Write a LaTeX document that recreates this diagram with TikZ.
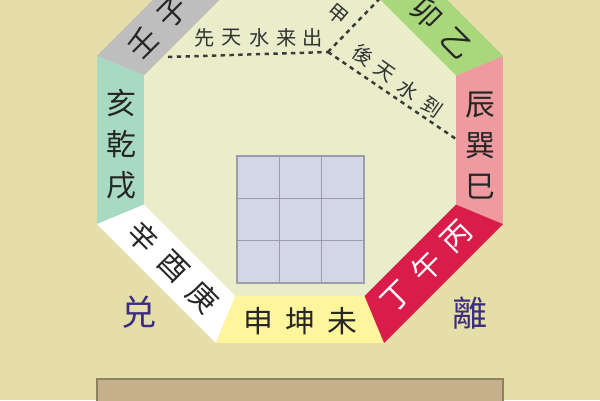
\documentclass[tikz,border=0pt]{standalone}
\usepackage{fontspec}
\newfontfamily\cjk{Noto Sans CJK SC}
\usetikzlibrary{calc}
\definecolor{bgtan}{HTML}{E6DEA9}
\definecolor{innergreen}{HTML}{E9EDC9}
\definecolor{tealseg}{HTML}{A8D9C3}
\definecolor{grayseg}{HTML}{BEBEBE}
\definecolor{greenseg}{HTML}{A9D77B}
\definecolor{pinkseg}{HTML}{EE9A9E}
\definecolor{redseg}{HTML}{D91C4A}
\definecolor{yellowseg}{HTML}{FFF59D}
\definecolor{gridfill}{HTML}{D3D6E4}
\definecolor{gridline}{HTML}{9C9CAC}
\definecolor{guaink}{HTML}{3B2E7E}
\definecolor{boxfill}{HTML}{C5B08B}
\definecolor{boxedge}{HTML}{8C845E}
\definecolor{dotink}{HTML}{3A3A3A}
\tikzset{
  band/.style={font=\cjk\fontsize{17}{17}\selectfont, inner sep=0pt, text=black!85},
  gua/.style={font=\cjk\fontsize{20}{20}\selectfont, inner sep=0pt, text=guaink},
  note/.style={font=\cjk\fontsize{11.5}{11.5}\selectfont, inner sep=0pt, text=black!80},
  waterline/.style={dotink, line width=1.4pt, dash pattern=on 2.5pt off 2.5pt}
}

\begin{document}
\begin{tikzpicture}[x=0.02cm,y=0.02cm]
\useasboundingbox (0,0) rectangle (600,400);
\clip (0,0) rectangle (600,400);
\fill[bgtan] (0,0) rectangle (600,400);
% octagon
\fill[innergreen, shift={(300,260)}] (22.5:171) \foreach \a in {67.5,112.5,...,337.5} {-- (\a:171)} -- cycle;
\foreach \a/\c in {0/pinkseg,45/greenseg,135/grayseg,180/tealseg,225/white,270/yellowseg,315/redseg}
  \fill[\c, shift={(300,260)}] (\a-22.5:219.7) -- (\a+22.5:219.7) -- (\a+22.5:168.9) -- (\a-22.5:168.9) -- cycle;

% luo shu grid
\draw[gridline, fill=gridfill, line width=0.6pt] (237,117) rectangle (364,244);
\foreach \i in {1,2} {
  \draw[gridline, line width=0.6pt] (237+42.33*\i,117) -- (237+42.33*\i,244);
  \draw[gridline, line width=0.6pt] (237,117+42.33*\i) -- (364,117+42.33*\i);
}

% bands
\node[band] (hai) at (121,297) {亥};
\node[band] (qian) at (121,256) {乾};
\node[band] (xu) at (121,215) {戌};
\node[band] (chen) at (480,295) {辰};
\node[band] (xun) at (480,254) {巽};
\node[band] (si) at (480,213) {巳};
\node[band] (shen) at (258,79) {申};
\node[band] (kun) at (300,79) {坤};
\node[band] (wei) at (342,79) {未};
\node[band, rotate=-45] (xin) at (143,163) {辛};
\node[band, rotate=-45] (you) at (173,133) {酉};
\node[band, rotate=-45] (geng) at (203,103) {庚};
\node[band, rotate=45, text=white] (bing) at (457,163) {丙};
\node[band, rotate=45, text=white] (wu) at (427,133) {午};
\node[band, rotate=45, text=white] (ding) at (397,103) {丁};
\node[band, rotate=45] (ren) at (143,357) {壬};
\node[band, rotate=45] (zi) at (173,387) {子};
\node[band, rotate=-45] (mao) at (427,387) {卯};
\node[band, rotate=-45] (yi) at (457,357) {乙};

\node[gua] (dui) at (139,88) {兑};
\node[gua] (li) at (470,87) {離};

% water lines
\coordinate (gate) at (168,343);
\coordinate (turn) at (328,348);
\coordinate (upend) at (390,412);
\coordinate (xunend) at (456,261);
\draw[waterline] (gate) -- (turn);
\draw[waterline] (turn) -- (upend);
\draw[waterline] (turn) -- (xunend);
\foreach \ch/\x [count=\n] in {先/205,天/232,水/260,来/287,出/313}
  \node[note] (pre\n) at (\x,362) {\ch};
\node[note, rotate=-40] (jia) at (338,385) {甲};
\foreach \ch/\x/\y [count=\n] in {後/363/345,天/385/328,水/408/310,到/432/293}
  \node[note, rotate=-35] (post\n) at (\x,\y) {\ch};

% caption box
\draw[boxedge, fill=boxfill, line width=1.3pt] (97,21) rectangle (503,-20);
\end{tikzpicture}
\end{document}
